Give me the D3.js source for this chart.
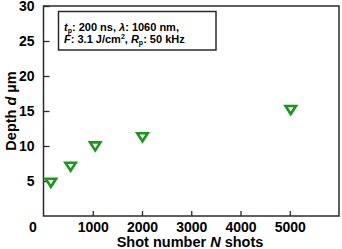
<!DOCTYPE html>
<html><head><meta charset="utf-8">
<script src="https://cdn.jsdelivr.net/npm/d3@7"></script>
<style>body{margin:0;background:#fff}svg{display:block}text{font-family:"Liberation Sans",Arial,sans-serif;font-weight:bold}</style>
</head><body><svg id="c" width="342" height="249"></svg>
<script>
const shots = [150, 550, 1050, 2010, 5020];
const depth = [4.8, 7.1, 10.0, 11.3, 15.2];
const xTicks = [1000, 2000, 3000, 4000, 5000];
const yTicks = [5, 10, 15, 20, 25, 30];

const svg = d3.select("#c");
const x = d3.scaleLinear().domain([0, 6000]).range([43.5, 339]);
const y = d3.scaleLinear().domain([0, 30]).range([216, 6]);
const ink = "#2b2b2b";

svg.append("rect").attr("x", x(0)).attr("y", y(30)).attr("width", x(6000) - x(0)).attr("height", y(0) - y(30))
  .attr("fill", "none").attr("stroke", ink).attr("stroke-width", 1.5);

const gx = svg.append("g").attr("transform", `translate(0,${y(0)})`)
  .call(d3.axisBottom(x).tickValues(xTicks).tickSize(-5).tickPadding(6).tickFormat(d3.format("d")));
const gy = svg.append("g").attr("transform", `translate(${x(0)},0)`)
  .call(d3.axisLeft(y).tickValues(yTicks).tickSize(-6).tickPadding(9));
[gx, gy].forEach(g => {
  g.select(".domain").remove();
  g.selectAll(".tick line").attr("stroke", ink).attr("stroke-width", 1.3);
  g.selectAll(".tick text").attr("fill", "#000").style("font-size", "14px").style("font-weight", "bold").style("font-family", "'Liberation Sans',Arial,sans-serif");
});
svg.append("text").attr("x", 33).attr("y", 232).attr("text-anchor", "middle").style("font-size", "14px").text("0");

// axis titles
const xt = svg.append("text").attr("x", 190).attr("y", 247).attr("text-anchor", "middle").style("font-size", "14.5px");
xt.append("tspan").text("Shot number ");
xt.append("tspan").style("font-style", "italic").text("N");
xt.append("tspan").text(" shots");
const yt = svg.append("text").attr("transform", "translate(16,111) rotate(-90)").attr("text-anchor", "middle").style("font-size", "14.5px");
yt.append("tspan").text("Depth ");
yt.append("tspan").style("font-style", "italic").text("d");
yt.append("tspan").text(" µm");

// annotation box
svg.append("rect").attr("x", 58.5).attr("y", 11.5).attr("width", 157.5).attr("height", 38.5)
  .attr("fill", "#fff").attr("stroke", ink).attr("stroke-width", 1.5);
const l1 = svg.append("text").attr("x", 64).attr("y", 30.5).style("font-size", "11px");
l1.append("tspan").style("font-style", "italic").text("t");
l1.append("tspan").attr("dy", 2).style("font-size", "7px").text("p");
l1.append("tspan").attr("dy", -2).text(": 200 ns, ");
l1.append("tspan").style("font-style", "italic").text("λ");
l1.append("tspan").text(": 1060 nm,");
const l2 = svg.append("text").attr("x", 64).attr("y", 43).style("font-size", "11px");
l2.append("tspan").style("font-style", "italic").text("F");
l2.append("tspan").text(": 3.1 J/cm");
l2.append("tspan").attr("dy", -4).style("font-size", "7px").text("2");
l2.append("tspan").attr("dy", 4).text(", ");
l2.append("tspan").style("font-style", "italic").text("R");
l2.append("tspan").attr("dy", 2).style("font-size", "7px").text("p");
l2.append("tspan").attr("dy", -2).text(": 50 kHz");

// markers: downward triangles
const pts = shots.map((s, i) => ({s, d: depth[i]}));
svg.append("g").selectAll("path").data(pts).join("path")
  .attr("d", "M-5.2,-3.6L5.2,-3.6L0,4.4Z")
  .attr("transform", p => `translate(${x(p.s)},${y(p.d)})`)
  .attr("fill", "#fff").attr("stroke", "#17991a").attr("stroke-width", 2.6).attr("stroke-linejoin", "miter");
</script></body></html>
